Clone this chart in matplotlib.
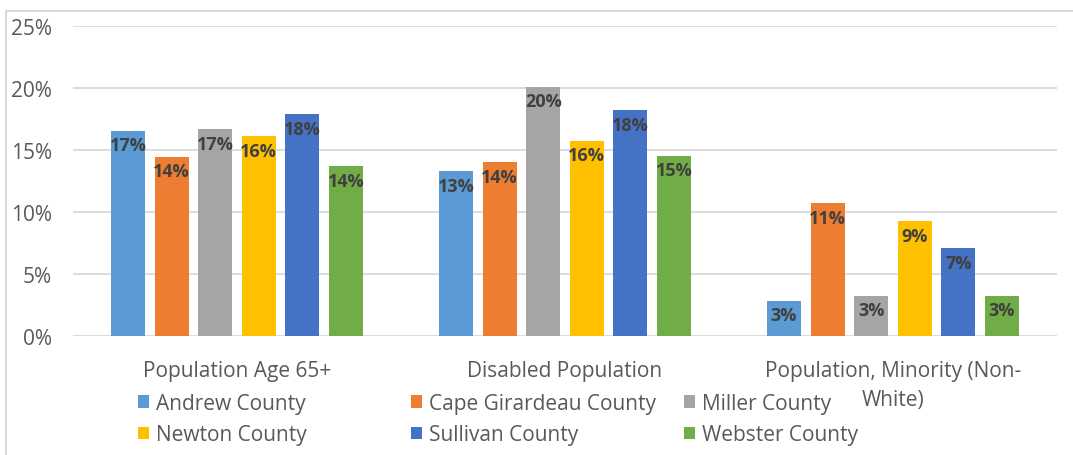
import matplotlib.pyplot as plt
import numpy as np
from matplotlib.patches import Rectangle
from matplotlib.ticker import FuncFormatter

# --- Data ---
categories = ["Population Age 65+", "Disabled Population", "Population, Minority (Non-\nWhite)"]
counties = ["Andrew County", "Cape Girardeau County", "Miller County",
            "Newton County", "Sullivan County", "Webster County"]
andrew = [0.1655, 0.133, 0.0285]
cape_girardeau = [0.1445, 0.140, 0.107]
miller = [0.1670, 0.201, 0.0325]
newton = [0.161, 0.1575, 0.0925]
sullivan = [0.179, 0.182, 0.0707]
webster = [0.137, 0.1455, 0.0325]
series = [andrew, cape_girardeau, miller, newton, sullivan, webster]

colors = ["#5B9BD5", "#ED7D31", "#A5A5A5", "#FFC000", "#4472C4", "#70AD47"]

plt.rcParams["font.family"] = ["Open Sans", "DejaVu Sans"]

fig = plt.figure(figsize=(10.73, 4.56), dpi=100)
ax = fig.add_axes([73 / 1073, 119 / 456, 984 / 1073, 310 / 456])

x = np.arange(len(categories))
pitch = 0.133
width = 0.104
handles = []
for i, (vals, col) in enumerate(zip(series, colors)):
    pos = x + (i - 2.5) * pitch
    bars = ax.bar(pos, vals, width, color=col, zorder=2, label=counties[i])
    handles.append(bars)
    # value labels sit just inside the top of each bar
    for b, v in zip(bars, vals):
        ax.annotate(f"{round(v * 100):d}%", (b.get_x() + b.get_width() / 2, v),
                    xytext=(0, -10.5), textcoords="offset points",
                    ha="center", va="center", fontsize=13, fontweight="bold",
                    color="#404040")

ax.set_xlim(-0.5, 2.5)
ax.set_ylim(0, 0.25)
ax.set_yticks(np.arange(0, 0.26, 0.05))
ax.yaxis.set_major_formatter(FuncFormatter(lambda v, _: f"{v * 100:.0f}%"))
ax.set_xticks(x)
ax.set_xticklabels(categories, fontsize=15, color="#595959", linespacing=1.55)
ax.tick_params(axis="y", labelsize=15, labelcolor="#595959", length=0, pad=15)
ax.tick_params(axis="x", length=0, pad=17)
ax.grid(axis="y", color="#D9D9D9", linewidth=1.3, zorder=0)
for s in ax.spines.values():
    s.set_visible(False)

# Legend: three columns of equal width
col_x = [138 / 1073, 411 / 1073, 684 / 1073]
for c in range(3):
    h = [handles[c], handles[c + 3]]
    lab = [counties[c], counties[c + 3]]
    leg = fig.legend(h, lab, loc="upper left", bbox_to_anchor=(col_x[c], 62 / 456),
                     frameon=False, fontsize=15, handlelength=0.55, handleheight=0.55,
                     handletextpad=0.3, labelspacing=0.5, borderaxespad=0,
                     borderpad=0)
    for t in leg.get_texts():
        t.set_color("#595959")

# Chart frame
fig.add_artist(Rectangle((6 / 1073, -0.1), 1.2, (456 - 12) / 456 + 0.1,
                         transform=fig.transFigure, fill=False,
                         edgecolor="#D9D9D9", linewidth=1.5))

fig.savefig("out.png", dpi=100, facecolor="white")
